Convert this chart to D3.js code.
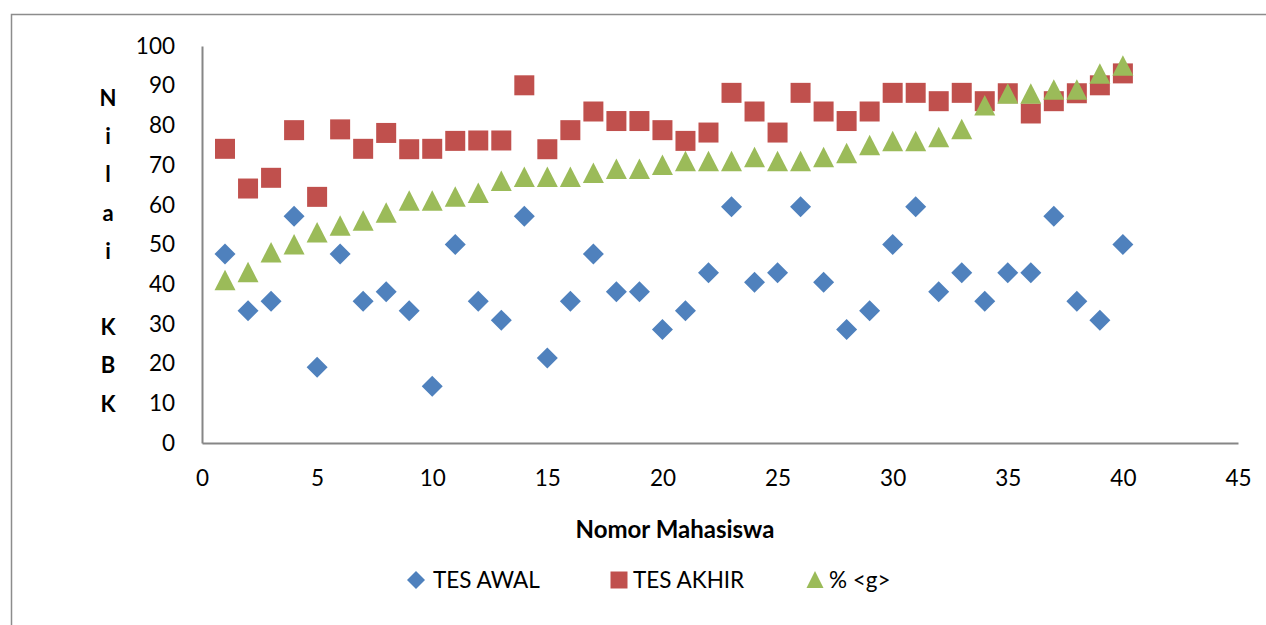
<!DOCTYPE html>
<html><head><meta charset="utf-8">
<script src="https://cdn.jsdelivr.net/npm/d3@7/dist/d3.min.js"></script>
<style>body{margin:0;background:#fff}svg{display:block;font-family:Lato,"Open Sans",sans-serif}</style>
</head><body><svg id="c" width="1266" height="625"></svg>
<script>
const students = d3.range(1, 41);
const tesAwal = [47.62,33.33,35.71,57.14,19.05,47.62,35.71,38.10,33.33,14.29,50,35.71,30.95,57.14,21.43,35.71,47.62,38.10,38.10,28.57,33.33,42.86,59.52,40.48,42.86,59.52,40.48,28.57,33.33,50,59.52,38.10,42.86,35.71,42.86,42.86,57.14,35.71,30.95,50];
const tesAkhir = [74.1,64.1,66.8,78.8,62.0,79.0,74.1,78.1,74.0,74.1,76.1,76.2,76.2,90.1,74.0,78.8,83.5,81.1,81.1,78.8,76.1,78.2,88.2,83.5,78.2,88.2,83.5,81.1,83.5,88.2,88.2,86.1,88.2,86.1,88.1,83.0,86.1,88.1,90.1,93.1];
const gain = [41,43,48,50,53,54.7,56,58,61,61,62,63,66,67,67,67,68,69,69,70,71,71,71,72,71,71,72,73,75,76,76,77,79,85,88,88,89,89,93,95];
const xTicks = [0,5,10,15,20,25,30,35,40,45];
const yTicks = [0,10,20,30,40,50,60,70,80,90,100];
const yLabelChars = ["N","i","l","a","i","","K","B","K"];
const seriesNames = ["TES AWAL","TES AKHIR","% <g>"];
const colors = ["#4F81BD","#C0504D","#9BBB59"];

const svg = d3.select("#c");
svg.append("path").attr("d","M11.5,625 L11.5,14.5 L1266,14.5").attr("fill","none").attr("stroke","#8c8c8c").attr("stroke-width",1.5);

const x = d3.scaleLinear().domain([0,45]).range([202,1238]);
const y = d3.scaleLinear().domain([0,100]).range([443,46]);

const gx = svg.append("g").attr("transform","translate(0,443)")
  .call(d3.axisBottom(x).tickValues(xTicks).tickSize(0).tickPadding(27));
gx.select(".domain").attr("stroke","#868686").attr("stroke-width",2);
gx.selectAll("text").attr("font-size",22.5).attr("fill","#000").attr("font-family","Lato");

const gy = svg.append("g").attr("transform","translate(202,0)")
  .call(d3.axisLeft(y).tickValues(yTicks).tickSize(0).tickPadding(27));
gy.select(".domain").attr("stroke","#868686").attr("stroke-width",2);
gy.selectAll("text").attr("font-size",22.5).attr("fill","#000").attr("font-family","Lato");

svg.append("text").attr("x",675).attr("y",538).attr("text-anchor","middle")
  .attr("font-weight","bold").attr("font-size",24).text("Nomor Mahasiswa");
yLabelChars.forEach((ch,i)=>{
  svg.append("text").attr("x",108).attr("y",106+i*38.2).attr("text-anchor","middle")
    .attr("font-weight","bold").attr("font-size",22).text(ch);
});

function shape(i){
  if(i===0) return "M0,-10.5L10.5,0L0,10.5L-10.5,0Z";
  if(i===1) return "M-10,-10L10,-10L10,10L-10,10Z";
  return "M0,-10.5L10.5,10L-10.5,10Z";
}
const data = [tesAwal, tesAkhir, gain];
data.forEach((arr,si)=>{
  svg.append("g").selectAll("path").data(arr).join("path")
    .attr("transform",(d,i)=>`translate(${x(students[i])},${y(d)})`)
    .attr("d",shape(si)).attr("fill",colors[si]);
});

const legX = [416, 619, 815];
const legTX = [433, 633, 829];
seriesNames.forEach((n,i)=>{
  const s = i===0 ? "M0,-9L9,0L0,9L-9,0Z" : (i===1 ? "M-8.5,-8.5L8.5,-8.5L8.5,8.5L-8.5,8.5Z" : "M0,-9L8.5,8L-8.5,8Z");
  svg.append("path").attr("transform",`translate(${legX[i]},580)`).attr("d",s).attr("fill",colors[i]);
  svg.append("text").attr("x",legTX[i]).attr("y",588).attr("font-size",22.5).text(n);
});
</script></body></html>
